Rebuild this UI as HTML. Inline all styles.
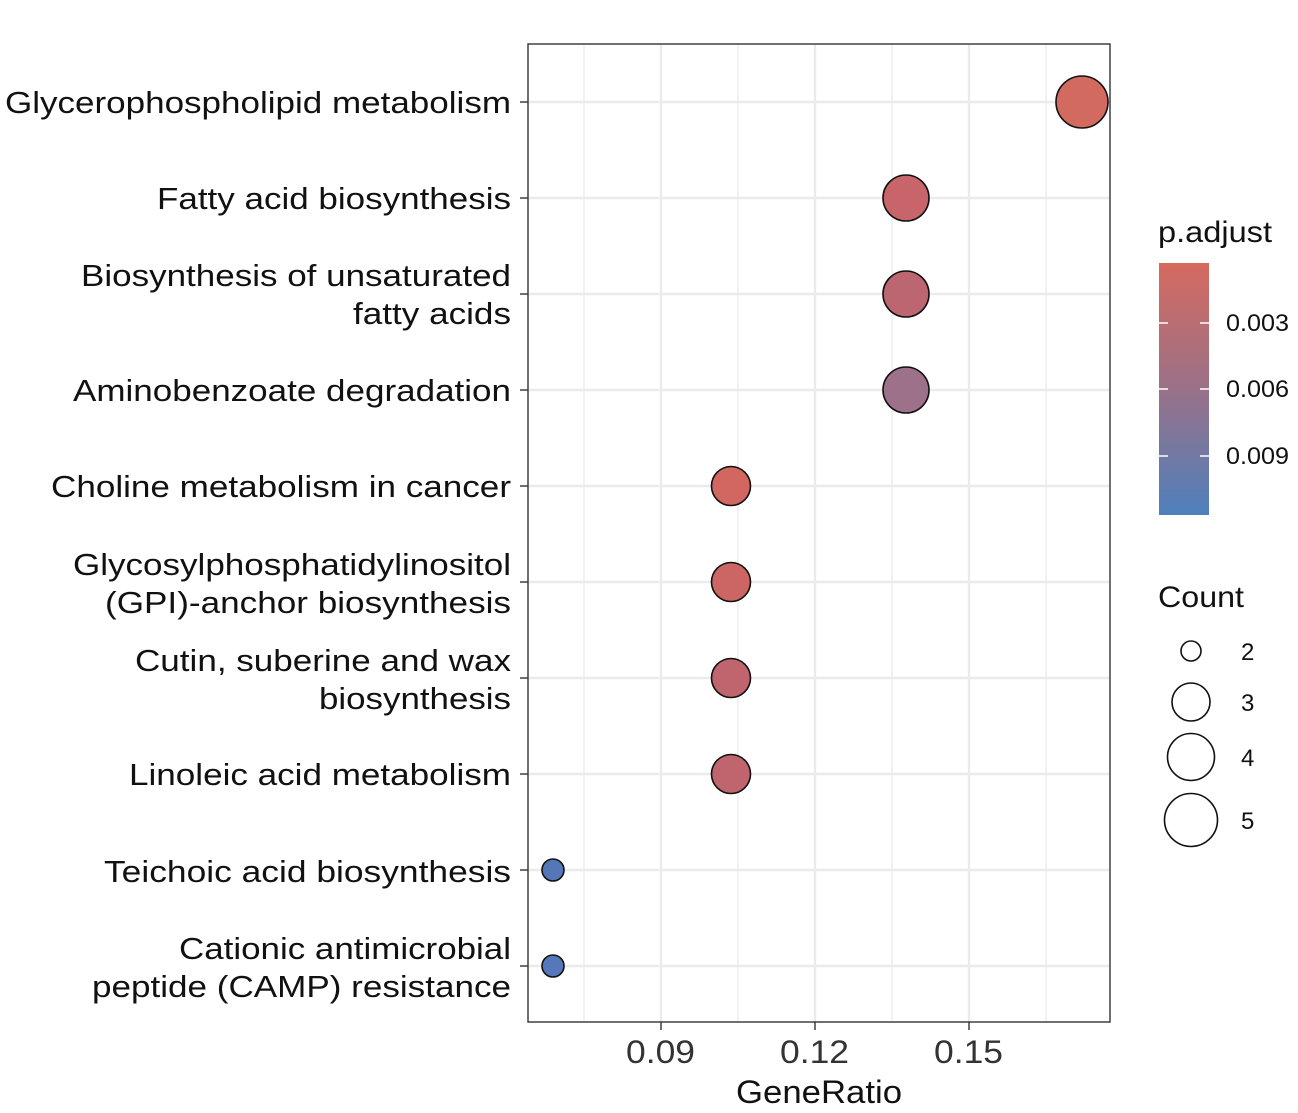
<!DOCTYPE html>
<html><head><style>body{margin:0;background:#fff}</style></head><body>
<svg width="1298" height="1108" xmlns="http://www.w3.org/2000/svg" font-family="Liberation Sans, sans-serif">
<defs><linearGradient id="g" x1="0" y1="0" x2="0" y2="1"><stop offset="0" stop-color="#D56A5F"/><stop offset="0.5" stop-color="#9A7188"/><stop offset="1" stop-color="#4E80BC"/></linearGradient></defs>
<rect x="528" y="44" width="582" height="978" fill="#fff"/>
<g stroke="#EBEBEB" stroke-width="1.3">
<line x1="584" y1="44" x2="584" y2="1022"/><line x1="738" y1="44" x2="738" y2="1022"/><line x1="892" y1="44" x2="892" y2="1022"/><line x1="1046" y1="44" x2="1046" y2="1022"/>
</g>
<g stroke="#EBEBEB" stroke-width="2.4">
<line x1="661" y1="44" x2="661" y2="1022"/><line x1="815" y1="44" x2="815" y2="1022"/><line x1="969" y1="44" x2="969" y2="1022"/>
<line x1="528" y1="102" x2="1110" y2="102"/><line x1="528" y1="198" x2="1110" y2="198"/><line x1="528" y1="294" x2="1110" y2="294"/><line x1="528" y1="390" x2="1110" y2="390"/><line x1="528" y1="486" x2="1110" y2="486"/><line x1="528" y1="582" x2="1110" y2="582"/><line x1="528" y1="678" x2="1110" y2="678"/><line x1="528" y1="774" x2="1110" y2="774"/><line x1="528" y1="870" x2="1110" y2="870"/><line x1="528" y1="966" x2="1110" y2="966"/>
</g>
<g stroke="#111" stroke-width="1.6">
<circle cx="1082" cy="102" r="26" fill="#D36A60"/>
<circle cx="906" cy="198" r="23" fill="#C8656A"/>
<circle cx="906" cy="294" r="23" fill="#BC6671"/>
<circle cx="906" cy="390" r="23" fill="#9D7189"/>
<circle cx="731" cy="486" r="19.5" fill="#D16760"/>
<circle cx="731" cy="582" r="19.5" fill="#CC6664"/>
<circle cx="731" cy="678" r="19.5" fill="#C0656D"/>
<circle cx="731" cy="774" r="19.5" fill="#C0656D"/>
<circle cx="553" cy="870" r="11" fill="#5577B8"/>
<circle cx="553" cy="966" r="11" fill="#5478BA"/>
</g>
<rect x="528" y="44" width="582" height="978" fill="none" stroke="#333" stroke-width="1.4"/>
<g stroke="#333" stroke-width="1.4">
<line x1="520" y1="102" x2="528" y2="102"/><line x1="520" y1="198" x2="528" y2="198"/><line x1="520" y1="294" x2="528" y2="294"/><line x1="520" y1="390" x2="528" y2="390"/><line x1="520" y1="486" x2="528" y2="486"/><line x1="520" y1="582" x2="528" y2="582"/><line x1="520" y1="678" x2="528" y2="678"/><line x1="520" y1="774" x2="528" y2="774"/><line x1="520" y1="870" x2="528" y2="870"/><line x1="520" y1="966" x2="528" y2="966"/>
<line x1="661" y1="1022" x2="661" y2="1030"/><line x1="815" y1="1022" x2="815" y2="1030"/><line x1="969" y1="1022" x2="969" y2="1030"/>
</g>
<g font-size="31" fill="#111" lengthAdjust="spacingAndGlyphs">
<text x="5" y="113" textLength="506" lengthAdjust="spacingAndGlyphs">Glycerophospholipid metabolism</text>
<text x="157" y="209" textLength="354" lengthAdjust="spacingAndGlyphs">Fatty acid biosynthesis</text>
<text x="81" y="286" textLength="430" lengthAdjust="spacingAndGlyphs">Biosynthesis of unsaturated</text>
<text x="353" y="324" textLength="158" lengthAdjust="spacingAndGlyphs">fatty acids</text>
<text x="73" y="401" textLength="438" lengthAdjust="spacingAndGlyphs">Aminobenzoate degradation</text>
<text x="51" y="497" textLength="460" lengthAdjust="spacingAndGlyphs">Choline metabolism in cancer</text>
<text x="73" y="575" textLength="438" lengthAdjust="spacingAndGlyphs">Glycosylphosphatidylinositol</text>
<text x="105" y="613" textLength="406" lengthAdjust="spacingAndGlyphs">(GPI)-anchor biosynthesis</text>
<text x="135" y="671" textLength="376" lengthAdjust="spacingAndGlyphs">Cutin, suberine and wax</text>
<text x="319" y="709" textLength="192" lengthAdjust="spacingAndGlyphs">biosynthesis</text>
<text x="129" y="785" textLength="382" lengthAdjust="spacingAndGlyphs">Linoleic acid metabolism</text>
<text x="104" y="882" textLength="407" lengthAdjust="spacingAndGlyphs">Teichoic acid biosynthesis</text>
<text x="179" y="959" textLength="332" lengthAdjust="spacingAndGlyphs">Cationic antimicrobial</text>
<text x="92" y="997" textLength="419" lengthAdjust="spacingAndGlyphs">peptide (CAMP) resistance</text>
</g>
<g font-size="32" fill="#333">
<text x="626" y="1063" textLength="69" lengthAdjust="spacingAndGlyphs">0.09</text><text x="780" y="1063" textLength="69" lengthAdjust="spacingAndGlyphs">0.12</text><text x="934" y="1063" textLength="69" lengthAdjust="spacingAndGlyphs">0.15</text>
</g>
<text x="736" y="1103" font-size="32" fill="#111" textLength="166" lengthAdjust="spacingAndGlyphs">GeneRatio</text>
<text x="1158" y="242" font-size="30" fill="#111" textLength="114" lengthAdjust="spacingAndGlyphs">p.adjust</text>
<rect x="1159" y="263" width="50" height="252" fill="url(#g)"/>
<g stroke="#fff" stroke-width="1.5">
<line x1="1159" y1="323" x2="1168" y2="323"/><line x1="1200" y1="323" x2="1209" y2="323"/>
<line x1="1159" y1="389" x2="1168" y2="389"/><line x1="1200" y1="389" x2="1209" y2="389"/>
<line x1="1159" y1="456" x2="1168" y2="456"/><line x1="1200" y1="456" x2="1209" y2="456"/>
</g>
<g font-size="24" fill="#111">
<text x="1226" y="331" textLength="63" lengthAdjust="spacingAndGlyphs">0.003</text><text x="1226" y="397" textLength="63" lengthAdjust="spacingAndGlyphs">0.006</text><text x="1226" y="464" textLength="63" lengthAdjust="spacingAndGlyphs">0.009</text>
</g>
<text x="1158" y="607" font-size="30" fill="#111" textLength="86" lengthAdjust="spacingAndGlyphs">Count</text>
<g fill="none" stroke="#111" stroke-width="1.6">
<circle cx="1191" cy="651" r="10"/><circle cx="1191" cy="702" r="19"/><circle cx="1191" cy="757" r="23.5"/><circle cx="1191" cy="820" r="26.5"/>
</g>
<g font-size="24" fill="#111">
<text x="1241" y="660">2</text><text x="1241" y="711">3</text><text x="1241" y="766">4</text><text x="1241" y="829">5</text>
</g>
</svg>
</body></html>
